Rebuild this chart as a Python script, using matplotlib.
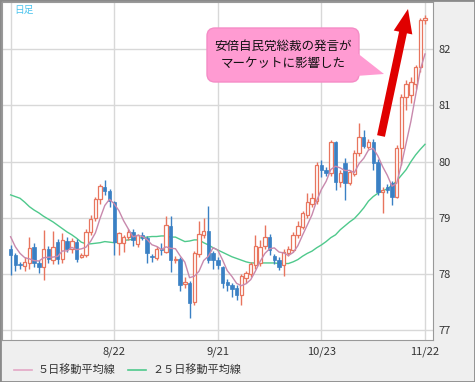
import numpy as np
import pandas as pd
import matplotlib
matplotlib.use("Agg")
import matplotlib.pyplot as plt
from matplotlib.patches import FancyBboxPatch, Polygon, FancyArrow, Rectangle
from matplotlib.lines import Line2D
from matplotlib.transforms import IdentityTransform

plt.rcParams['font.family'] = ['Noto Sans CJK JP', 'DejaVu Sans']

# daily candles (index 0 = first visible day)
opens = [78.45, 78.34, 78.18, 78.14, 78.20, 78.48, 78.20, 78.13, 78.45, 78.25,
         78.57, 78.27, 78.59, 78.45, 78.57, 78.31, 78.34, 78.75, 79.00, 79.33,
         79.55, 79.48, 79.28, 78.55, 78.56, 78.66, 78.75, 78.53, 78.70, 78.64,
         78.32, 78.29, 78.45, 78.40, 78.85, 78.25, 78.27, 77.82, 77.84, 77.50,
         78.36, 78.70, 78.77, 78.37, 78.25, 78.13, 77.87, 77.81, 77.75, 77.63,
         77.93, 78.00, 78.16, 78.20, 78.50, 78.67, 78.32, 78.26, 78.16, 78.37,
         78.43, 78.70, 78.84, 79.05, 79.25, 79.30, 79.94, 79.86, 79.80, 80.35,
         79.64, 79.97, 79.62, 79.79, 80.15, 80.44, 80.27, 80.35, 80.00, 79.47,
         79.55, 79.62, 79.38, 80.24, 81.15, 81.18, 81.39, 81.69, 82.52]
highs = [78.52, 78.38, 78.22, 78.30, 78.66, 78.55, 78.25, 78.78, 78.50, 78.77,
         78.62, 78.73, 78.66, 78.64, 78.62, 78.38, 78.80, 79.05, 79.38, 79.60,
         79.67, 79.52, 79.30, 78.75, 78.70, 78.80, 78.80, 78.72, 78.75, 78.68,
         78.36, 78.50, 78.55, 79.03, 79.03, 78.32, 78.30, 77.95, 77.88, 78.42,
         78.94, 79.00, 79.21, 78.42, 78.30, 78.15, 77.92, 77.85, 77.80, 78.00,
         78.05, 78.22, 78.70, 78.60, 78.87, 78.72, 78.36, 78.30, 78.45, 78.50,
         78.75, 78.95, 79.12, 79.44, 79.45, 80.00, 80.03, 79.90, 80.38, 80.37,
         79.85, 80.06, 79.86, 80.20, 80.68, 80.56, 80.40, 80.40, 80.05, 79.55,
         79.60, 79.65, 80.30, 81.20, 81.45, 81.50, 81.72, 82.55, 82.60]
lows = [77.98, 78.05, 78.10, 78.05, 78.10, 78.12, 78.02, 77.90, 78.20, 78.18,
        78.18, 78.20, 78.40, 78.38, 78.22, 78.28, 78.30, 78.70, 78.95, 79.25,
        79.40, 79.20, 78.34, 78.35, 78.40, 78.60, 78.50, 78.48, 78.60, 78.20,
        78.22, 78.25, 78.35, 78.38, 78.04, 78.20, 77.70, 77.75, 77.22, 77.45,
        78.30, 78.65, 78.20, 78.10, 78.10, 77.75, 77.70, 77.60, 77.55, 77.45,
        77.85, 77.95, 78.10, 78.15, 78.45, 78.35, 78.18, 78.08, 77.97, 78.33,
        78.40, 78.65, 78.80, 79.00, 79.20, 79.25, 79.73, 79.75, 79.75, 79.50,
        79.55, 79.32, 79.58, 79.75, 80.10, 80.25, 80.22, 79.85, 79.40, 79.08,
        79.45, 79.23, 79.35, 79.95, 80.92, 81.05, 81.30, 81.60, 82.45]
closes = [78.35, 78.16, 78.16, 78.22, 78.47, 78.20, 78.12, 78.45, 78.27, 78.48,
          78.27, 78.60, 78.45, 78.59, 78.27, 78.34, 78.75, 78.98, 79.33, 79.57,
          79.48, 79.30, 78.57, 78.73, 78.67, 78.75, 78.60, 78.70, 78.64, 78.38,
          78.30, 78.45, 78.43, 78.87, 78.25, 78.27, 77.81, 77.87, 77.49, 78.38,
          78.71, 78.77, 78.25, 78.25, 78.16, 77.85, 77.81, 77.73, 77.63, 77.96,
          78.02, 78.18, 78.50, 78.48, 78.67, 78.43, 78.26, 78.13, 78.40, 78.44,
          78.70, 78.86, 79.08, 79.29, 79.35, 79.95, 79.86, 79.80, 80.35, 79.64,
          79.80, 79.62, 79.82, 80.15, 80.44, 80.28, 80.35, 79.97, 79.47, 79.50,
          79.50, 79.38, 80.24, 81.15, 81.39, 81.42, 81.69, 82.52, 82.56]
# closes of the 4 days before the window (for the 5 day average)
prior_closes = [79.05, 78.75, 78.60, 78.58]

# 25 day moving average
ma25 = [79.41, 79.38, 79.35, 79.28, 79.20, 79.14, 79.09, 79.03, 78.98, 78.93,
        78.87, 78.81, 78.75, 78.70, 78.64, 78.57, 78.54, 78.54, 78.55, 78.56,
        78.58, 78.57, 78.56, 78.57, 78.60, 78.61, 78.62, 78.64, 78.65, 78.66,
        78.67, 78.67, 78.68, 78.68, 78.66, 78.66, 78.62, 78.58, 78.59, 78.61,
        78.61, 78.56, 78.52, 78.47, 78.43, 78.39, 78.35, 78.31, 78.28, 78.25,
        78.22, 78.20, 78.20, 78.20, 78.20, 78.20, 78.20, 78.19, 78.19, 78.19,
        78.22, 78.26, 78.32, 78.37, 78.41, 78.47, 78.52, 78.58, 78.65, 78.70,
        78.79, 78.86, 78.93, 78.99, 79.08, 79.18, 79.30, 79.38, 79.44, 79.48,
        79.52, 79.58, 79.66, 79.76, 79.86, 80.00, 80.12, 80.22, 80.31]

tick_pos = [22, 44, 66, 88]
tick_labels = ['8/22', '9/21', '10/23', '11/22']
y_ticks = [77, 78, 79, 80, 81, 82]

up_col = '#e8755e'
down_col = '#3a80c4'
ma5_col = '#c889ad'
ma25_col = '#4fc98c'
grid_col = '#d8d8d8'

W, H = 475, 382
fig = plt.figure(figsize=(W / 100, H / 100), dpi=100)
fig.patch.set_facecolor('#efefef')
ax = fig.add_axes([2 / W, 42 / H, 431 / W, 338 / H])
ax.set_facecolor('white')

n = len(closes)
x = np.arange(n)
o = np.array(opens)
c = np.array(closes)
hi = np.array(highs)
lo = np.array(lows)
up = c >= o

# grid
for yv in y_ticks:
    ax.axhline(yv, color=grid_col, lw=1, zorder=0)
for xv in [0] + tick_pos:
    ax.axvline(xv, color=grid_col, lw=1, zorder=0)

# moving averages
ma5 = pd.Series(prior_closes + closes).rolling(5).mean().to_numpy()[4:]
ax.plot(x, ma25, color=ma25_col, lw=1, zorder=2)

# candles
ax.vlines(x[up], lo[up], hi[up], color=up_col, lw=1, zorder=3)
ax.vlines(x[~up], lo[~up], hi[~up], color=down_col, lw=1, zorder=3)
ax.bar(x[up], c[up] - o[up], bottom=o[up], width=0.72, facecolor='white',
       edgecolor=up_col, lw=0.9, zorder=4)
ax.bar(x[~up], o[~up] - c[~up], bottom=c[~up], width=0.72, facecolor=down_col,
       edgecolor=down_col, lw=0.5, zorder=4)
ax.plot(x, ma5, color=ma5_col, lw=1, zorder=5)

ax.set_xlim(-1.83, 89.7)
ax.set_ylim(76.83, 82.84)
ax.set_xticks(tick_pos)
ax.set_xticklabels(tick_labels)
ax.set_yticks(y_ticks)
ax.yaxis.tick_right()
ax.tick_params(length=0, labelsize=8, colors='#333333', pad=4)
ax.tick_params(axis='x', pad=5)
for s in ax.spines.values():
    s.set_color('#999999')

fig.text(14 / W, 1 - 10 / H, '日足', color='#4cc4ee', fontsize=7, va='center')


def px(xp, yp):
    return (xp, H - yp)


ident = IdentityTransform()
# callout
box = FancyBboxPatch(px(207, 82), 152, 54, boxstyle='round,pad=0,rounding_size=8',
                     transform=ident, facecolor='#ff9bd2', edgecolor='#f58cc6', lw=1)
fig.patches.append(box)
tail = Polygon([px(356, 52), px(384, 74), px(356, 76)], closed=True,
               transform=ident, facecolor='#ff9bd2', edgecolor='none')
fig.patches.append(tail)
fig.text(283 / W, 1 - 55 / H, '安倍自民党総裁の発言が\nマーケットに影響した',
         ha='center', va='center', fontsize=9, linespacing=1.35, color='#111111')

# red arrow
x0, y0 = px(381, 136)
x1, y1 = px(408, 9)
arr = FancyArrow(x0, y0, x1 - x0, y1 - y0, width=8, head_width=19, head_length=24,
                 length_includes_head=True, transform=ident, color='#e00000', lw=0)
fig.patches.append(arr)

# legend
ly = 1 - 370 / H
fig.lines.append(Line2D([14 / W, 32 / W], [ly, ly], color='#e3a7c6', lw=1.2,
                        transform=fig.transFigure))
fig.text(38 / W, ly, '５日移動平均線', fontsize=8, va='center', color='#333333')
fig.lines.append(Line2D([128 / W, 146 / W], [ly, ly], color=ma25_col, lw=1.2,
                        transform=fig.transFigure))
fig.text(152 / W, ly, '２５日移動平均線', fontsize=8, va='center', color='#333333')

fig.patches.append(Rectangle((0, 0), 1, 1, transform=fig.transFigure, fill=False,
                             edgecolor='#8a8a8a', lw=2))

fig.savefig('out.png', dpi=100)
